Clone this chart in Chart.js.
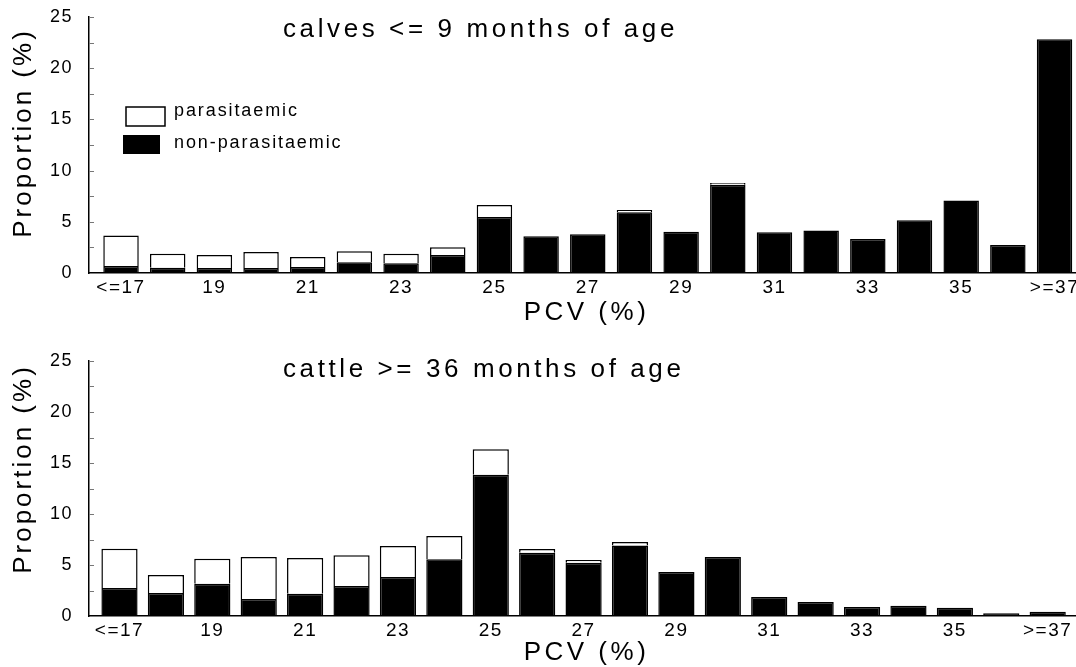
<!DOCTYPE html>
<html>
<head>
<meta charset="utf-8">
<script src="https://cdn.jsdelivr.net/npm/chart.js@4.4.1/dist/chart.umd.min.js"></script>
<style>
  html, body { margin: 0; padding: 0; background: #fff; }
  #wrap { position: relative; width: 1076px; height: 667px; }
  .panel { position: absolute; left: 0; width: 1076px; }
</style>
</head>
<body>
<div id="wrap">
  <div class="panel" style="top:0;height:330px"><canvas id="calves"></canvas></div>
  <div class="panel" style="top:330px;height:337px"><canvas id="cattle"></canvas></div>
</div>
<script>
// PCV classes (%), only every other one gets a label
const pcvLabels = ['<=17', '18', '19', '20', '21', '22', '23', '24', '25', '26', '27',
                   '28', '29', '30', '31', '32', '33', '34', '35', '36', '>=37'];
const shownTicks = ['<=17', '19', '21', '23', '25', '27', '29', '31', '33', '35', '>=37'];
const yTicks = [0, 5, 10, 15, 20, 25];

// calves <= 9 months, proportion (%)
const calvesNonPara = [0.68, 0.52, 0.49, 0.49, 0.59, 1.04, 0.94, 1.76, 5.47, 3.58, 3.78,
                       5.93, 4.04, 8.63, 3.97, 4.14, 3.32, 5.15, 7.07, 2.74, 22.83];
const calvesPara    = [2.97, 1.37, 1.27, 1.56, 0.97, 1.08, 0.95, 0.75, 1.17, 0, 0,
                       0.23, 0, 0.16, 0, 0, 0, 0, 0, 0, 0];

// cattle >= 36 months, proportion (%)
const cattleNonPara = [2.75, 2.25, 3.17, 1.67, 2.19, 2.94, 3.82, 5.56, 13.86, 6.21, 5.23,
                       6.90, 4.31, 5.78, 1.86, 1.37, 0.88, 1.01, 0.82, 0.26, 0.42];
const cattlePara    = [3.85, 1.77, 2.45, 4.11, 3.50, 3.01, 3.04, 2.28, 2.48, 0.36, 0.26,
                       0.35, 0, 0, 0, 0, 0, 0, 0, 0, 0];

const FONT = '"Liberation Sans", Arial, Helvetica, sans-serif';
Chart.defaults.font.family = FONT;
Chart.defaults.color = '#000';

// titles, axis titles, legend and the small inward marks on the y axis
const panelText = {
  id: 'panelText',
  beforeDraw(chart) {
    chart.ctx.letterSpacing = '1.5px';
  },
  afterDraw(chart, args, o) {
    const ctx = chart.ctx;
    const a = chart.chartArea;
    const ys = chart.scales.y;
    ctx.save();
    ctx.strokeStyle = '#777';
    ctx.lineWidth = 1;
    for (let v = 2.5; v < 25.1; v += 2.5) {
      const py = Math.round(ys.getPixelForValue(v)) + 0.5;
      ctx.beginPath();
      ctx.moveTo(a.left, py);
      ctx.lineTo(a.left + 5, py);
      ctx.stroke();
    }

    ctx.fillStyle = '#000';
    ctx.textBaseline = 'alphabetic';

    ctx.font = '26px ' + FONT;
    ctx.letterSpacing = '3.6px';
    ctx.textAlign = 'left';
    ctx.fillText(o.title, 283, o.titleY);

    ctx.letterSpacing = '3.5px';
    ctx.textAlign = 'center';
    ctx.fillText('PCV (%)', (a.left + a.right) / 2 + 4, o.pcvY);

    ctx.save();
    ctx.translate(31, o.yTitleY);
    ctx.rotate(-Math.PI / 2);
    ctx.letterSpacing = '3px';
    ctx.fillText('Proportion (%)', 0, 0);
    ctx.restore();

    if (o.legend) {
      const ds = chart.data.datasets;
      ctx.lineWidth = 1.5;
      ctx.strokeStyle = '#000';
      ctx.fillStyle = ds[1].backgroundColor;
      ctx.fillRect(126, 107, 39, 19);
      ctx.strokeRect(126, 107, 39, 19);
      ctx.fillStyle = ds[0].backgroundColor;
      ctx.fillRect(123, 135, 37, 19);

      ctx.fillStyle = '#000';
      ctx.font = '18px ' + FONT;
      ctx.letterSpacing = '1.9px';
      ctx.textAlign = 'left';
      ctx.fillText(ds[1].label, 174, 116);
      ctx.fillText(ds[0].label, 174, 148);
    }
    ctx.restore();
  }
};

function makeChart(id, nonPara, para, cfg) {
  const pts = vals => pcvLabels.map((_, i) => ({ x: i, y: vals[i] }));
  return new Chart(document.getElementById(id), {
    type: 'bar',
    data: {
      datasets: [
        {
          label: 'non-parasitaemic',
          data: pts(nonPara),
          backgroundColor: '#000',
          borderColor: '#000',
          borderWidth: 1.5,
          barPercentage: cfg.barPct,
          categoryPercentage: 1
        },
        {
          label: 'parasitaemic',
          data: pts(para),
          backgroundColor: '#fff',
          borderColor: '#000',
          borderWidth: 1.5,
          barPercentage: cfg.barPct,
          categoryPercentage: 1
        }
      ]
    },
    options: {
      responsive: true,
      maintainAspectRatio: false,
      animation: false,
      layout: { padding: { top: cfg.top, left: 0, right: 0, bottom: 0 } },
      plugins: {
        legend: { display: false },
        tooltip: { enabled: false },
        panelText: cfg.text
      },
      scales: {
        x: {
          type: 'linear',
          offset: false,
          stacked: true,
          min: cfg.xMin,
          max: cfg.xMax,
          grid: { display: false, drawTicks: false },
          border: { display: true, color: '#000', width: 1.5 },
          afterBuildTicks: s => { s.ticks = pcvLabels.map((_, i) => ({ value: i })); },
          ticks: {
            autoSkip: false,
            maxRotation: 0,
            padding: cfg.xPad,
            font: { size: 19 },
            callback: v => shownTicks.includes(pcvLabels[v]) ? pcvLabels[v] : ''
          },
          afterFit: s => { s.height = cfg.xHeight; s.paddingLeft = 0; s.paddingRight = 0; }
        },
        y: {
          stacked: true,
          min: 0,
          max: 25,
          grid: { display: false, drawTicks: false },
          border: { display: true, color: '#000', width: 1.5 },
          afterBuildTicks: s => { s.ticks = yTicks.map(v => ({ value: v })); },
          ticks: { padding: 16, font: { size: 18 } },
          afterFit: s => { s.width = 89; s.paddingTop = 0; s.paddingBottom = 0; }
        }
      }
    },
    plugins: [panelText]
  });
}

makeChart('calves', calvesNonPara, calvesPara, {
  top: 17, xHeight: 57, xPad: 3, xMin: -0.686, xMax: 20.46, barPct: 0.76,
  text: { title: 'calves <= 9 months of age', titleY: 36.5, pcvY: 320, yTitleY: 133, legend: true }
});

makeChart('cattle', cattleNonPara, cattlePara, {
  top: 31, xHeight: 51, xPad: 3, xMin: -0.657, xMax: 20.61, barPct: 0.78,
  text: { title: 'cattle >= 36 months of age', titleY: 46.5, pcvY: 329.5, yTitleY: 139, legend: false }
});
</script>
</body>
</html>
